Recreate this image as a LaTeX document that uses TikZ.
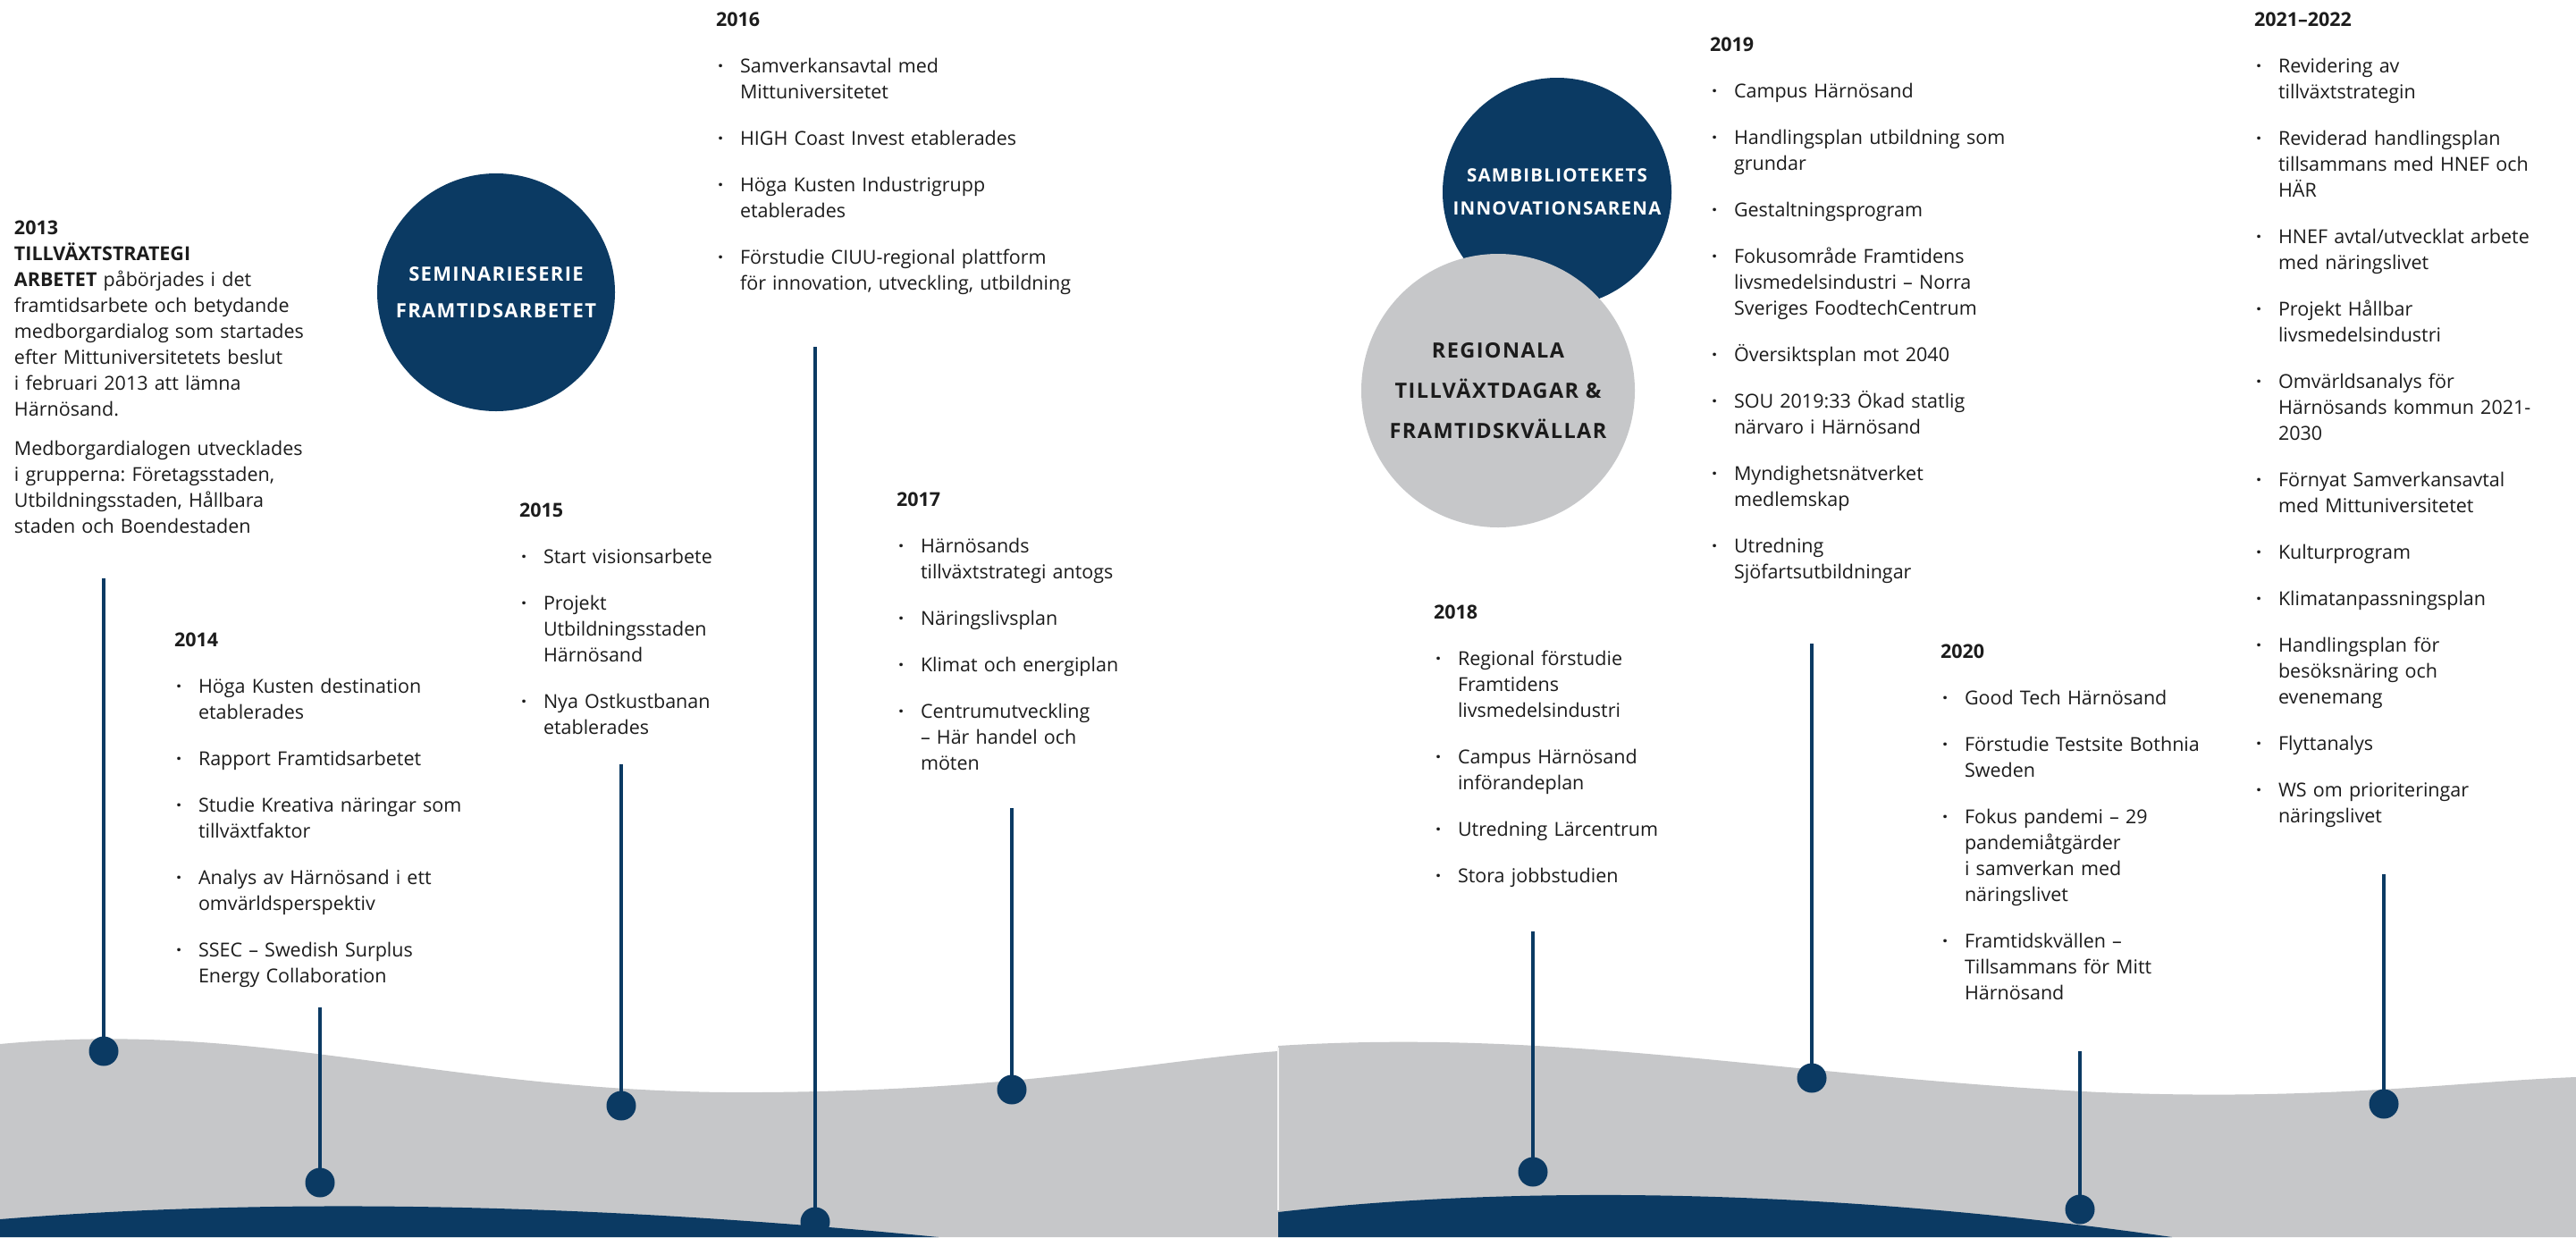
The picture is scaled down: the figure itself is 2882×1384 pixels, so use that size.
\documentclass[tikz,border=0pt]{standalone}
\usepackage{fontspec}
\setmainfont{Open Sans}
\newfontfamily\circfont[LetterSpace=6]{Open Sans}
\definecolor{navy}{RGB}{11,58,99}
\definecolor{ground}{RGB}{198,199,201}
\definecolor{ink}{RGB}{28,28,28}
\frenchspacing
\newcommand\bodyfont{\fontsize{21.5}{29}\selectfont}
\newcommand\itm{\par\hangindent=27pt\hangafter=0\noindent\hspace*{-27pt}\makebox[27pt][l]{\hspace{2pt}\textbf{·}}}
\begin{document}
\begin{tikzpicture}[x=1pt,y=-1pt,inner sep=0pt,outer sep=0pt,
yearbox/.style={anchor=north west,text width=#1,align=left,font=\bodyfont,text=ink,
  execute at begin node={\setlength{\parskip}{23pt}\rule{0pt}{21pt}}},
stem/.style={draw=navy,line width=3.5pt},
dot/.style={circle,fill=navy,minimum size=33pt},
bubble/.style={circle,minimum size=#1,align=center}]
\useasboundingbox (0,0) rectangle (2882,1384);
\fill[white] (0,0) rectangle (2882,1384);
\fill[ground] (0,1168) .. controls (300,1140) and (500,1225) .. (850,1222) .. controls (1150,1220) and (1300,1185) .. (1430,1176) -- (1430,1384) -- (0,1384) -- cycle;
\fill[ground] (1430,1170) .. controls (1750,1150) and (2000,1205) .. (2350,1222) .. controls (2600,1232) and (2750,1210) .. (2882,1205) -- (2882,1384) -- (1430,1384) -- cycle;
\fill[navy] (0,1364) .. controls (300,1340) and (650,1345) .. (1050,1384) -- (0,1384) -- cycle;
\fill[navy] (1430,1356) .. controls (1700,1325) and (2050,1330) .. (2430,1384) -- (1430,1384) -- cycle;
\draw[white!80!ground,line width=1.5pt] (1430,1172) -- (1430,1354);

\node[bubble=266pt,fill=navy,text=white,font=\circfont\bfseries\fontsize{22}{41}\selectfont] (seminar) at (555,327) {SEMINARIESERIE\\FRAMTIDSARBETET};
\node[bubble=256pt,fill=navy,text=white,font=\circfont\bfseries\fontsize{20.5}{37}\selectfont] (sambib) at (1742,215) {SAMBIBLIOTEKETS\\INNOVATIONSARENA};
\node[bubble=306pt,fill=ground,text=ink,font=\circfont\bfseries\fontsize{23.5}{45}\selectfont] (regional) at (1676,437) {REGIONALA\\TILLVÄXTDAGAR \&\\FRAMTIDSKVÄLLAR};

\foreach \yr/\x/\t/\d in {13/116/647/1176,14/358/1127/1323,15/695/855/1237,16/912/388/1367,17/1132/904/1219,18/1715/1042/1311,19/2027/720/1206,20/2327/1176/1353,21/2667/978/1235} {
  \coordinate (top\yr) at (\x,\t);
  \node[dot] (dot\yr) at (\x,\d) {};
  \draw[stem] (top\yr) -- (dot\yr.center);
}

\node[yearbox=420pt] (y2013) at (16,241) {\setlength{\parskip}{15pt}{\bfseries 2013}\newline
{\bfseries TILLVÄXTSTRATEGI}\newline
{\bfseries ARBETET} påbörjades i det\newline
framtidsarbete och betydande\newline
medborgardialog som startades\newline
efter Mittuniversitetets beslut\newline
i februari 2013 att lämna\newline
Härnösand.\par
Medborgardialogen utvecklades\newline
i grupperna: Företagsstaden,\newline
Utbildningsstaden, Hållbara\newline
staden och Boendestaden\par};

\node[yearbox=400pt] (y2014) at (195,702) {{\bfseries 2014}
\itm Höga Kusten destination\newline etablerades
\itm Rapport Framtidsarbetet
\itm Studie Kreativa näringar som\newline tillväxtfaktor
\itm Analys av Härnösand i ett\newline omvärldsperspektiv
\itm SSEC – Swedish Surplus\newline Energy Collaboration\par};

\node[yearbox=300pt] (y2015) at (581,557) {{\bfseries 2015}
\itm Start visionsarbete
\itm Projekt\newline Utbildningsstaden\newline Härnösand
\itm Nya Ostkustbanan\newline etablerades\par};

\node[yearbox=450pt] (y2016) at (801,8) {{\bfseries 2016}
\itm Samverkansavtal med\newline Mittuniversitetet
\itm HIGH Coast Invest etablerades
\itm Höga Kusten Industrigrupp\newline etablerades
\itm Förstudie CIUU-regional plattform\newline för innovation, utveckling, utbildning\par};

\node[yearbox=300pt] (y2017) at (1003,545) {{\bfseries 2017}
\itm Härnösands\newline tillväxtstrategi antogs
\itm Näringslivsplan
\itm Klimat och energiplan
\itm Centrumutveckling\newline – Här handel och\newline möten\par};

\node[yearbox=300pt] (y2018) at (1604,671) {{\bfseries 2018}
\itm Regional förstudie\newline Framtidens\newline livsmedelsindustri
\itm Campus Härnösand\newline införandeplan
\itm Utredning Lärcentrum
\itm Stora jobbstudien\par};

\node[yearbox=420pt] (y2019) at (1913,36) {{\bfseries 2019}
\itm Campus Härnösand
\itm Handlingsplan utbildning som\newline grundar
\itm Gestaltningsprogram
\itm Fokusområde Framtidens\newline livsmedelsindustri – Norra\newline Sveriges FoodtechCentrum
\itm Översiktsplan mot 2040
\itm SOU 2019:33 Ökad statlig\newline närvaro i Härnösand
\itm Myndighetsnätverket\newline medlemskap
\itm Utredning\newline Sjöfartsutbildningar\par};

\node[yearbox=330pt] (y2020) at (2171,715) {{\bfseries 2020}
\itm Good Tech Härnösand
\itm Förstudie Testsite Bothnia\newline Sweden
\itm Fokus pandemi – 29\newline pandemiåtgärder\newline i samverkan med\newline näringslivet
\itm Framtidskvällen –\newline Tillsammans för Mitt\newline Härnösand\par};

\node[yearbox=360pt] (y2021) at (2522,8) {{\bfseries 2021–2022}
\itm Revidering av\newline tillväxtstrategin
\itm Reviderad handlingsplan\newline tillsammans med HNEF och\newline HÄR
\itm HNEF avtal/utvecklat arbete\newline med näringslivet
\itm Projekt Hållbar\newline livsmedelsindustri
\itm Omvärldsanalys för\newline Härnösands kommun 2021-\newline 2030
\itm Förnyat Samverkansavtal\newline med Mittuniversitetet
\itm Kulturprogram
\itm Klimatanpassningsplan
\itm Handlingsplan för\newline besöksnäring och\newline evenemang
\itm Flyttanalys
\itm WS om prioriteringar\newline näringslivet\par};
\end{tikzpicture}
\end{document}
